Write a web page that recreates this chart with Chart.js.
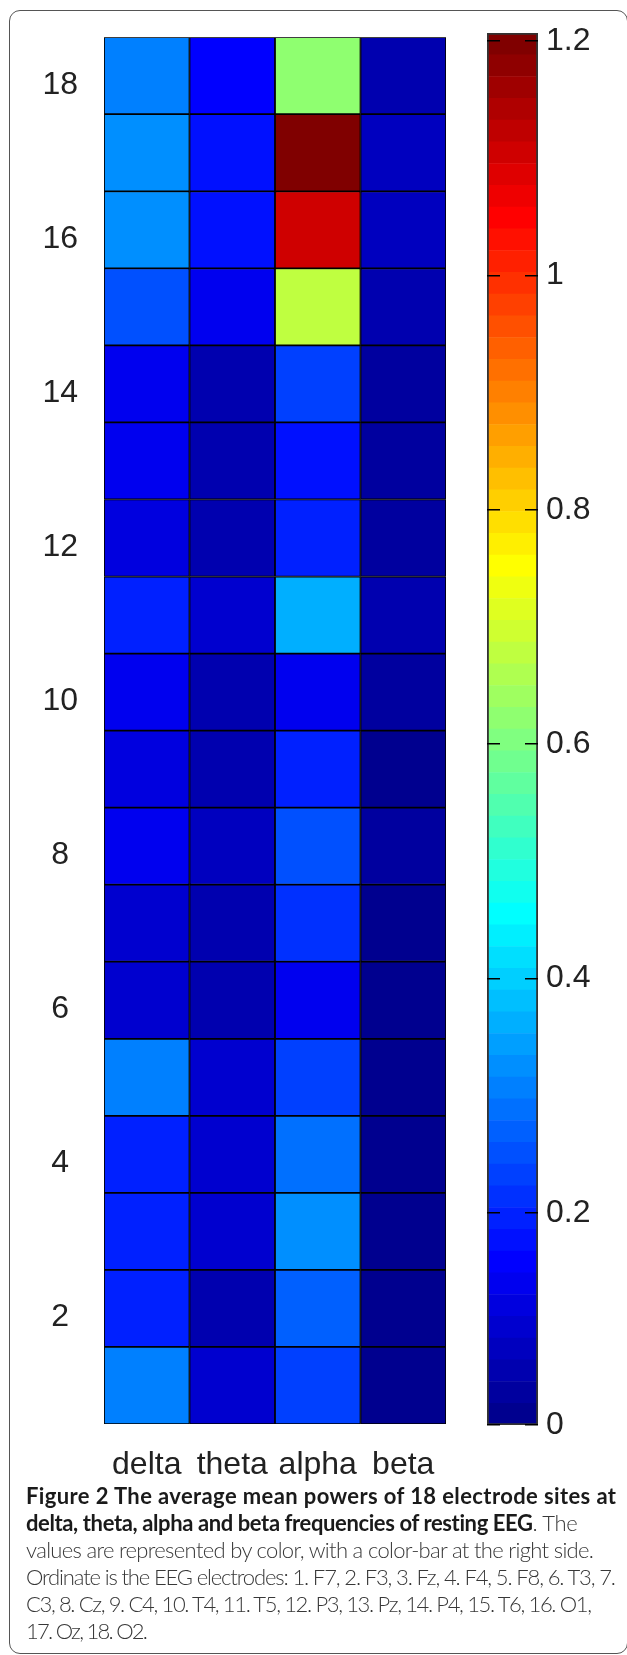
<!doctype html>
<html>
  <head>
    <title>Figure 2</title>
    <script src="https://cdn.jsdelivr.net/npm/chart.js@4.4.1/dist/chart.umd.min.js"></script>
    <style>
    body { margin: 0; background: #fff; width: 627px; height: 1655px; overflow: hidden; position: relative; }
    #frame { position: absolute; left: 9px; top: 10px; width: 617px; height: 1642px; border: 1.5px solid #555; border-radius: 11px; }
    #heat { position: absolute; left: 0; top: 0; }
    #bar { position: absolute; left: 470px; top: 0; }
    #caption { position: absolute; left: 26px; top: 1482px; font-family: Lato, "Open Sans", sans-serif; font-size: 22px; line-height: 27px; color: #383838; font-weight: 300; white-space: nowrap; }
    #caption span.line { display: block; }
    #caption b { font-weight: 700; color: #1a1a1a; }
    </style>
  </head>

  <body>
    <div id="frame"></div>
    <canvas id="heat" width="470" height="1500"></canvas>
    <canvas id="bar" width="157" height="1500"></canvas>
    <div id="caption">
      <span class="line" data-w="590"><b>Figure 2 The average mean powers of 18 electrode sites at</b></span>
      <span class="line" data-w="552"><b>delta, theta, alpha and beta frequencies of resting EEG</b>. The</span>
      <span class="line" data-w="568">values are represented by color, with a color-bar at the right side.</span>
      <span class="line" data-w="590">Ordinate is the EEG electrodes: 1. F7, 2. F3, 3. Fz, 4. F4, 5. F8, 6. T3, 7.</span>
      <span class="line" data-w="566">C3, 8. Cz, 9. C4, 10. T4, 11. T5, 12. P3, 13. Pz, 14. P4, 15. T6, 16. O1,</span>
      <span class="line" data-w="122">17. Oz, 18. O2.</span>
    </div>

    <script>
      // mean power per electrode (index 0 = electrode 1 ... 17 = electrode 18)
      let bands = ['delta', 'theta', 'alpha', 'beta'];
      let delta = [0.307, 0.195, 0.195, 0.195, 0.307, 0.102, 0.102, 0.140, 0.121, 0.140, 0.195, 0.121, 0.140, 0.140, 0.251, 0.325, 0.325, 0.307];
      let theta = [0.102, 0.065, 0.102, 0.102, 0.102, 0.065, 0.065, 0.084, 0.065, 0.065, 0.102, 0.065, 0.065, 0.065, 0.140, 0.177, 0.177, 0.158];
      let alpha = [0.232, 0.270, 0.325, 0.288, 0.232, 0.140, 0.214, 0.251, 0.195, 0.140, 0.362, 0.195, 0.177, 0.232, 0.677, 1.104, 1.207, 0.622];
      let beta  = [0.028, 0.028, 0.028, 0.028, 0.028, 0.028, 0.019, 0.047, 0.028, 0.047, 0.065, 0.047, 0.047, 0.047, 0.065, 0.084, 0.084, 0.065];
      let yTicks = [2, 4, 6, 8, 10, 12, 14, 16, 18];
      let cbTicks = [0, 0.2, 0.4, 0.6, 0.8, 1, 1.2];
      let cbTickLabels = ['0', '0.2', '0.4', '0.6', '0.8', '1', '1.2'];

      let columns = [delta, theta, alpha, beta];
      let all = [].concat(delta, theta, alpha, beta);
      let cmin = Math.min.apply(Math, all);
      let cmax = Math.max.apply(Math, all);
      const LEVELS = 64;

      // matlab style jet(64), k = 1..64
      function jet(k) {
        let n = 16;
        let u = function(j) { // j = 1..47
          if (j < 1 || j > 47) return 0;
          if (j <= n) return j / n;
          if (j < 2 * n) return 1;
          return (3 * n - j) / n;
        };
        let g = u(k - 8), r = u(k - 24), b = u(k + 8);
        return 'rgb(' + Math.round(r * 255) + ',' + Math.round(g * 255) + ',' + Math.round(b * 255) + ')';
      }

      function colorOf(v) {
        let k = Math.floor((v - cmin) / (cmax - cmin) * LEVELS) + 1;
        return jet(Math.min(LEVELS, Math.max(1, k)));
      }

      Chart.defaults.font.family = '"Liberation Sans", Arial, sans-serif';
      Chart.defaults.color = '#222';

      // one dataset per electrode row, a floating bar per band
      let rows = [];
      for (let e = 0; e < delta.length; ++e) {
        let n = e + 1;
        rows.push({
          data: bands.map(() => [n - 0.5, n + 0.5]),
          backgroundColor: columns.map(col => colorOf(col[e])),
          borderColor: '#000',
          borderWidth: 1.2,
          borderSkipped: false,
          grouped: false,
          barPercentage: 1,
          categoryPercentage: 1
        });
      }

      new Chart(document.getElementById('heat'), {
        type: 'bar',
        data: { labels: bands, datasets: rows },
        options: {
          responsive: false,
          animation: false,
          layout: { padding: { top: 33, right: 24, left: 0, bottom: 0 } },
          plugins: { legend: { display: false }, tooltip: { enabled: false } },
          scales: {
            x: {
              grid: { display: false },
              border: { display: false },
              ticks: { font: { size: 32 }, padding: 14, maxRotation: 0 },
              afterFit: function(axis) { axis.height = 76; }
            },
            y: {
              min: 0.5,
              max: 18.5,
              grid: { display: false },
              border: { display: false },
              afterBuildTicks: function(axis) { axis.ticks = yTicks.map(v => ({ value: v })); },
              ticks: { font: { size: 32 }, padding: 18, crossAlign: 'center', labelOffset: 9 },
              afterFit: function(axis) { axis.width = 104; }
            }
          }
        }
      });

      // colour bar: 64 stacked levels plus an outline
      let step = (cmax - cmin) / LEVELS;
      let levels = [{
        data: [[cmin, cmax]],
        backgroundColor: 'rgba(0,0,0,0)',
        borderColor: '#333',
        borderWidth: 1.5,
        borderSkipped: false,
        grouped: false,
        barPercentage: 1,
        categoryPercentage: 1
      }];
      for (let k = 1; k <= LEVELS; ++k) {
        levels.push({
          data: [[cmin + (k - 1) * step, cmin + k * step]],
          backgroundColor: jet(k),
          borderWidth: 0,
          grouped: false,
          barPercentage: 1,
          categoryPercentage: 1
        });
      }

      new Chart(document.getElementById('bar'), {
        type: 'bar',
        data: { labels: [''], datasets: levels },
        options: {
          responsive: false,
          animation: false,
          layout: { padding: { top: 33, left: 17, right: 0, bottom: 75 } },
          plugins: { legend: { display: false }, tooltip: { enabled: false } },
          scales: {
            x: { display: false },
            y: {
              position: 'right',
              min: cmin,
              max: cmax,
              // short tick marks inside both edges of the bar
              grid: { color: '#000', lineWidth: 1.5, drawTicks: false, z: 1 },
              border: { display: false, dash: [13, 25] },
              afterBuildTicks: function(axis) {
                axis.ticks = cbTicks.map(v => ({ value: Math.max(v, axis.min) }));
              },
              ticks: {
                font: { size: 32 },
                padding: 8,
                callback: function(value, index) { return cbTickLabels[index]; }
              },
              afterFit: function(axis) { axis.width = 89; }
            }
          }
        }
      });

      // stretch each caption line to the width it has in the figure
      document.querySelectorAll('#caption span.line').forEach(function(line) {
        let target = +line.dataset.w;
        line.style.display = 'inline-block';
        let w = line.getBoundingClientRect().width;
        let gaps = line.textContent.length - 1;
        line.style.letterSpacing = ((target - w) / gaps) + 'px';
        line.style.display = 'block';
      });
    </script>

  </body>
</html>
